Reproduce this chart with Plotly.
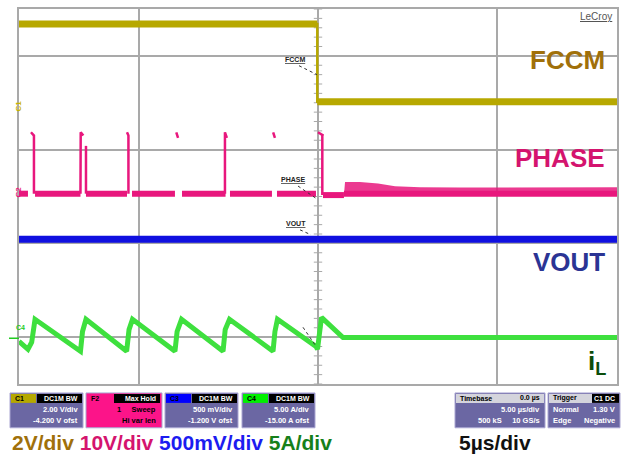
import plotly.graph_objects as go

W, H = 630, 457
L, R, T, B = 19, 13, 7, 73
PW, PH = W - L - R, H - T - B

# ---------------- data (time in µs, 5 µs/div, trigger at 0; vertical in screen divisions) ----------
x_range = [-25, 25]
y_range = [-4, 4]
grid_x = [-15, 0, 15]
grid_y = [-3, -1, 1, 3]

# FCCM (C1)
fccm_t = [-25.0, -0.06, -0.06, 25.0]
fccm_v = [3.68, 3.68, 2.02, 2.02]

# PHASE (C2): baseline segments
phase_seg_start = [-25.0, -23.66, -19.40, -15.55, -11.37, -7.36, -3.43, 0.42, 2.17]
phase_seg_end = [-24.25, -19.86, -15.97, -11.96, -7.73, -3.85, -0.17, 2.17, 25.0]
phase_seg_level = [0.06, 0.06, 0.06, 0.06, 0.06, 0.06, 0.06, 0.03, 0.06]
# PHASE switching pulses
phase_pulse_t = [[-24.00, -23.75, -23.75], [-19.86, -19.84, -19.62], [-19.40, -19.40],
                 [-15.97, -15.85, -15.85], [-11.85, -11.70], [-7.78, -7.78, -7.62],
                 [-3.75, -3.60], [0.00, 0.45, 0.36, 0.36]]
phase_pulse_v = [[1.37, 1.30, 0.06], [0.06, 1.37, 1.30], [1.08, 0.06],
                 [1.37, 1.30, 0.06], [1.37, 1.25], [0.06, 1.37, 1.25],
                 [1.37, 1.25], [1.37, 1.30, 1.30, 0.03]]
# PHASE ringing envelope after the transition
ring_t = [2.17, 2.26, 3.51, 5.02, 6.44, 8.53, 11.87, 15.2, 25.0]
ring_top = [0.04, 0.31, 0.31, 0.28, 0.22, 0.20, 0.19, 0.19, 0.20]
ring_bottom = 0.02

# VOUT (C3)
vout_t = [-25.0, 25.0]
vout_v = [-0.91, -0.91]

# iL (C4)
il_t = [-25.0, -24.25, -23.94, -23.66, -19.86, -19.69, -19.40, -16.00, -15.80, -15.51,
        -11.96, -11.78, -11.41, -7.94, -7.76, -7.40, -3.76, -3.60, -3.39, -0.17, -0.04,
        0.13, 0.29, 2.09, 25.0]
il_v = [-3.09, -3.26, -3.11, -2.62, -3.30, -2.88, -2.62, -3.30, -2.84, -2.62,
        -3.30, -2.88, -2.62, -3.30, -2.84, -2.62, -3.30, -2.88, -2.62, -3.20, -3.26,
        -2.84, -2.58, -3.01, -3.01]

center_ticks = [round(-4 + 0.2 * i, 2) for i in range(41)]

C_FCCM = "#b7a800"
C_PHASE = "#e8177d"
C_VOUT = "#1010e0"
C_IL = "#3ee03e"
GRID = "#a9a9a9"


def fx(px):
    return (px - L) / PW


def fy(py):
    return (H - B - py) / PH


fig = go.Figure()

# center-line ticks
fig.add_trace(go.Scatter(x=[0] * len(center_ticks), y=center_ticks, mode="markers",
                         marker=dict(symbol="line-ew", size=6, line=dict(width=1, color=GRID)),
                         hoverinfo="skip"))

# FCCM: thick horizontal bands + thin edge
band_x, band_y = [], []
for i in range(len(fccm_t) - 1):
    if fccm_t[i] != fccm_t[i + 1]:
        band_x += [fccm_t[i], fccm_t[i + 1], None]
        band_y += [fccm_v[i], fccm_v[i + 1], None]
fig.add_trace(go.Scatter(x=fccm_t, y=fccm_v, mode="lines", line=dict(color=C_FCCM, width=2.5)))
fig.add_trace(go.Scatter(x=band_x, y=band_y, mode="lines", line=dict(color=C_FCCM, width=7)))

# PHASE ringing fill
fig.add_trace(go.Scatter(x=ring_t + ring_t[::-1], y=ring_top + [ring_bottom] * len(ring_t),
                         mode="lines", fill="toself", fillcolor="rgba(232,23,125,0.85)",
                         line=dict(width=0, color=C_PHASE)))
# PHASE baseline
px_, py_ = [], []
for s, e, lv in zip(phase_seg_start, phase_seg_end, phase_seg_level):
    px_ += [s, e, None]
    py_ += [lv, lv, None]
fig.add_trace(go.Scatter(x=px_, y=py_, mode="lines", line=dict(color=C_PHASE, width=6)))
# PHASE pulses
qx, qy = [], []
for tt, vv in zip(phase_pulse_t, phase_pulse_v):
    qx += tt + [None]
    qy += vv + [None]
fig.add_trace(go.Scatter(x=qx, y=qy, mode="lines", line=dict(color=C_PHASE, width=2.5)))

# VOUT
fig.add_trace(go.Scatter(x=vout_t, y=vout_v, mode="lines", line=dict(color=C_VOUT, width=7)))

# iL
fig.add_trace(go.Scatter(x=il_t, y=il_v, mode="lines", line=dict(color=C_IL, width=5)))

# trigger markers
fig.add_trace(go.Scatter(x=[25.4], y=[2.79], mode="markers", cliponaxis=False,
                         marker=dict(symbol="triangle-left", size=7, color="#c8b400")))
fig.add_trace(go.Scatter(x=[0], y=[-4.08], mode="markers", cliponaxis=False,
                         marker=dict(symbol="triangle-up", size=6, color="#c8b400")))

ann = []
shapes = []
FONT = "Liberation Sans, Arial, sans-serif"

# big right labels
for txt, col, yc in [("FCCM", "#a0700a", 58), ("PHASE", "#d4146e", 156.5), ("VOUT", "#2b3494", 261.5)]:
    ann.append(dict(x=fx(607), y=fy(yc), xref="paper", yref="paper", xanchor="right", yanchor="middle",
                    text="<b>%s</b>" % txt, showarrow=False, font=dict(family=FONT, size=26, color=col)))
ann.append(dict(x=fx(608), y=fy(362), xref="paper", yref="paper", xanchor="right", yanchor="middle",
                text="<b>i<sub>L</sub></b>", showarrow=False, font=dict(family=FONT, size=26, color="#0b4d0b")))

# LeCroy logo
ann.append(dict(x=fx(614), y=fy(15), xref="paper", yref="paper", xanchor="right", yanchor="middle",
                text="<u>LeCroy</u>", showarrow=False, font=dict(family=FONT, size=10, color="#555555")))

# small trace labels with dotted leaders
for txt, xc, yc, lead in [("FCCM", 295, 58, (299, 64, 317, 73)),
                          ("PHASE", 293, 178, (298, 185, 317, 198)),
                          ("VOUT", 296, 223, (300, 229, 311, 234))]:
    ann.append(dict(x=fx(xc), y=fy(yc), xref="paper", yref="paper", xanchor="center", yanchor="middle",
                    text="<b><u>%s</u></b>" % txt, showarrow=False,
                    font=dict(family=FONT, size=7, color="#222222")))
    shapes.append(dict(type="line", xref="paper", yref="paper", x0=fx(lead[0]), y0=fy(lead[1]),
                       x1=fx(lead[2]), y1=fy(lead[3]), line=dict(color="#333333", width=1, dash="dot")))
shapes.append(dict(type="line", xref="paper", yref="paper", x0=fx(303), y0=fy(327),
                   x1=fx(316), y1=fy(346), line=dict(color="#333333", width=1, dash="dot")))

# ground markers at left
ann.append(dict(x=fx(12), y=fy(97), xref="paper", yref="paper", text="<b>C1</b>", textangle=-90,
                showarrow=False, font=dict(family=FONT, size=8, color="#c8b400")))
ann.append(dict(x=fx(12), y=fy(191), xref="paper", yref="paper", text="<b>C2</b>", textangle=-90,
                showarrow=False, font=dict(family=FONT, size=8, color=C_PHASE)))
ann.append(dict(x=fx(14), y=fy(333), xref="paper", yref="paper", text="<b>C4</b>", showarrow=False,
                font=dict(family=FONT, size=7, color="#22cc22")))
shapes.append(dict(type="line", xref="paper", yref="paper", x0=fx(9), y0=fy(338), x1=fx(19), y1=fy(338),
                   line=dict(color="#22cc22", width=1.5)))

# info boxes
BODY = "#6b67a3"
EDGE = "#aaa6d2"


def rect(x0, y0, x1, y1, fill, line=None):
    shapes.append(dict(type="rect", xref="paper", yref="paper", x0=fx(x0), x1=fx(x1), y0=fy(y1), y1=fy(y0),
                       fillcolor=fill, line=dict(width=1 if line else 0, color=line or fill)))


def txt(x, y, s, col="white", anchor="right", size=7.5):
    ann.append(dict(x=fx(x), y=fy(y), xref="paper", yref="paper", xanchor=anchor, yanchor="middle",
                    text="<b>%s</b>" % s, showarrow=False, font=dict(family=FONT, size=size, color=col)))


chan_boxes = [
    (10, 83, "#b5a800", "C1", "DC1M BW", "2.00 V/div", "-4.200 V ofst"),
    (165, 238, "#0000ff", "C3", "DC1M BW", "500 mV/div", "-1.200 V ofst"),
    (242, 315, "#00f000", "C4", "DC1M BW", "5.00 A/div", "-15.00 A ofst"),
]
for x0, x1, hc, name, hdr, r1, r2 in chan_boxes:
    rect(x0, 393, x1, 428, BODY, EDGE)
    rect(x0 + 1, 394, x0 + 26, 403, hc)
    rect(x0 + 27, 394, x1 - 1, 403, "#000000")
    txt(x0 + 3, 398.5, name, "#000000", "left", 7)
    txt(x1 - 3, 398.5, hdr, "white", "right", 7)
    txt(x1 - 3, 410, r1)
    txt(x1 - 3, 420.5, r2)

# pink math box
rect(86, 393, 162, 428, "#fc1489", EDGE)
rect(114, 394, 160, 403, "#000000")
txt(89, 398.5, "F2", "#000000", "left", 7)
txt(158, 398.5, "Max Hold", "white", "right", 7)
txt(158, 410, "1     Sweep", "#000000", "right")
txt(158, 420.5, "Hi var len", "#000000", "right")

# timebase / trigger boxes
rect(455, 393, 545, 428, BODY, EDGE)
rect(456, 394, 544, 403, "#d4d4dc")
txt(458, 398.5, "Timebase", "#000000", "left", 7)
txt(542, 398.5, "0.0 µs", "#000000", "right", 7)
txt(542, 410, "5.00 µs/div")
txt(542, 420.5, "500 kS     10 GS/s")
rect(548, 393, 620, 428, BODY, EDGE)
rect(549, 394, 619, 403, "#d4d4dc")
rect(592, 394, 619, 403, "#000000")
txt(551, 398.5, "Trigger", "#000000", "left", 7)
txt(617, 398.5, "C1 DC", "white", "right", 7)
txt(551, 410, "Normal", "white", "left")
txt(617, 410, "1.30 V")
txt(551, 420.5, "Edge", "white", "left")
txt(617, 420.5, "Negative")

# bottom scale labels
ann.append(dict(x=fx(10), y=fy(443), xref="paper", yref="paper", xanchor="left", yanchor="middle",
                showarrow=False, font=dict(family=FONT, size=21),
                text="<b><span style='color:#a0700a'>2V/div</span> <span style='color:#d4146e'>10V/div</span> "
                     "<span style='color:#1c1cf0'>500mV/div</span> <span style='color:#16801a'>5A/div</span></b>"))
ann.append(dict(x=fx(457), y=fy(443), xref="paper", yref="paper", xanchor="left", yanchor="middle",
                showarrow=False, font=dict(family=FONT, size=21, color="#111111"), text="<b>5µs/div</b>"))

axis_common = dict(showticklabels=False, ticks="", zeroline=False, showgrid=True, gridcolor=GRID,
                   gridwidth=1.5, showline=True, linecolor=GRID, linewidth=1.5, mirror=True, fixedrange=True)
fig.update_layout(
    width=W, height=H, margin=dict(l=L, r=R, t=T, b=B),
    paper_bgcolor="white", plot_bgcolor="white", showlegend=False, hovermode=False,
    xaxis=dict(range=x_range, tickvals=grid_x, **axis_common),
    yaxis=dict(range=y_range, tickvals=grid_y, **axis_common),
    annotations=ann, shapes=shapes,
)
fig.write_html("out.html", config={"displayModeBar": False},
               post_script="document.body.style.margin='0px';document.body.style.overflow='hidden';")
